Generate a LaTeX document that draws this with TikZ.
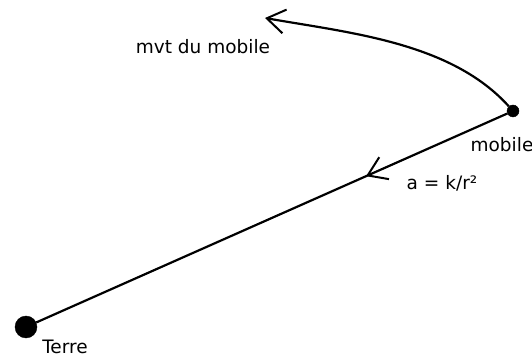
\documentclass[tikz,border=0pt]{standalone}
\usepackage{fontspec}
\setmainfont{DejaVu Sans}
\usetikzlibrary{arrows.meta, positioning, decorations.markings}

\begin{document}
\begin{tikzpicture}[
        x=1pt, y=1pt,
        >={Straight Barb[length=18pt, width=24pt, line width=2pt]},
        body/.style={draw, circle, fill=black, inner sep=0pt},
        label/.style={font=\fontsize{18.5}{22}\selectfont, inner sep=0pt},
        line/.style={draw, line width=2.2pt},
    ]
        \useasboundingbox (0,0) rectangle (532,358);

        \node[body, minimum size=12pt] (mobile) at (513,247) {};
        \node[body, minimum size=22pt] (terre) at (26,31) {};
        \coordinate (fin) at (265,340);

        % trajectoire et acceleration
        \path[line, ->] (mobile) to[out=132, in=-10, looseness=0.85] (fin);
        \path[line, postaction={decorate}, decoration={markings,
            mark=at position 0.3 with {\arrow{>}}}] (mobile) -- (terre);

        \node[label] (mvt) at (203,311) {mvt du mobile};
        \node[label] (nmobile) at (502,213) {mobile};
        \node[label] (acc) at (442,175) {a = k/r²};
        \node[label] (nterre) at (65,11) {Terre};
    \end{tikzpicture}
\end{document}
